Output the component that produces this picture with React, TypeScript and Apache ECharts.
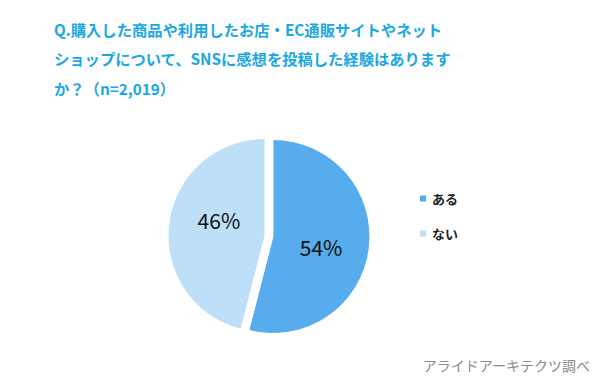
import React, { useEffect, useRef } from "react";
import * as echarts from "echarts";

const titleLines = [
  "Q.購入した商品や利用したお店・EC通販サイトやネット",
  "ショップについて、SNSに感想を投稿した経験はあります",
  "か？（n=2,019）",
];
const categories = ["ある", "ない"];
const values = [54, 46];
const colors = ["#56acec", "#bde0f8"];
const source = "アライドアーキテクツ調べ";

export default function App() {
  const ref = useRef<HTMLDivElement>(null);
  useEffect(() => {
    const chart = echarts.init(ref.current!, null, { renderer: "svg" });
    const font = '"Noto Sans CJK JP", "Noto Sans", sans-serif';
    const labelShift = [[-3, 4], [5, -9]];
    chart.setOption({
      animation: false,
      backgroundColor: "#ffffff",
      textStyle: { fontFamily: font },
      title: {
        text: titleLines.join("\n"),
        left: 49,
        top: 9,
        textStyle: {
          color: "#1aa8e2",
          fontSize: 15.3,
          fontWeight: "bold",
          lineHeight: 29.5,
          fontFamily: font,
        },
      },
      legend: {
        orient: "vertical",
        left: 413,
        top: 187,
        itemWidth: 8,
        itemHeight: 8,
        itemGap: 22,
        icon: "rect",
        selectedMode: false,
        textStyle: { fontSize: 13, fontWeight: "bold", color: "#222", fontFamily: font },
        data: categories,
      },
      graphic: [
        {
          type: "text",
          right: 10,
          top: 358,
          style: { text: source, fill: "#8a8a8a", fontSize: 14, fontFamily: font },
        },
      ],
      series: [
        {
          type: "pie",
          center: [269, 236],
          radius: 97,
          startAngle: 90,
          clockwise: true,
          selectedMode: "multiple",
          selectedOffset: 4,
          data: categories.map((c, i) => ({
            name: c,
            value: values[i],
            selected: true,
            itemStyle: { color: colors[i] },
          })),
          itemStyle: { borderColor: "#ffffff", borderWidth: 1 },
          label: {
            show: true,
            position: "inside",
            formatter: "{c}%",
            fontSize: 21,
            color: "#111",
            fontFamily: font,
          },
          labelLayout: (p: any) => ({
            dx: labelShift[p.dataIndex][0],
            dy: labelShift[p.dataIndex][1],
          }),
          labelLine: { show: false },
          emphasis: { disabled: true },
          select: { disabled: false, itemStyle: { borderColor: "#ffffff", borderWidth: 1 } },
        },
      ],
    });
    return () => chart.dispose();
  }, []);
  return <div ref={ref} style={{ width: 600, height: 386, margin: -8 }} />;
}
